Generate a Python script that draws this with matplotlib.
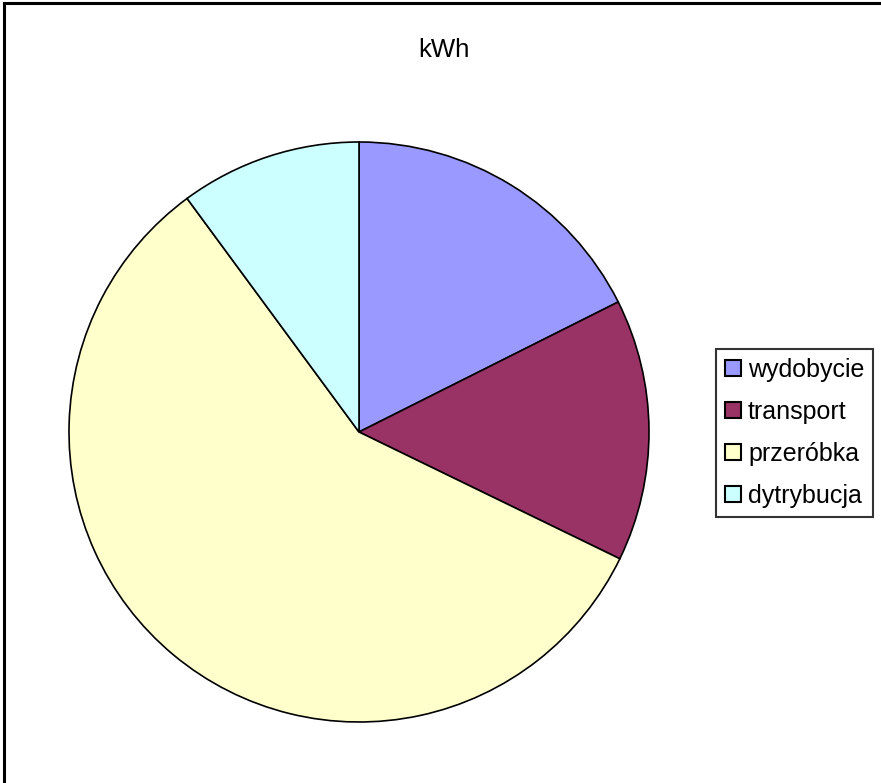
import matplotlib
matplotlib.use("Agg")
import matplotlib.pyplot as plt
from matplotlib.patches import Rectangle

plt.rcParams['font.family'] = ['Liberation Sans', 'DejaVu Sans']

categories = ['wydobycie', 'transport', 'przeróbka', 'dytrybucja']
values = [17.6, 14.6, 57.7, 10.1]
colors = ['#9999FF', '#993366', '#FFFFCC', '#CCFFFF']
title = 'kWh'

W, H = 881, 783
fig = plt.figure(figsize=(W / 100, H / 100), dpi=100)

# outer frame
fig.patches.append(Rectangle((4 / W, -0.1), 2.0, (H - 3) / H + 0.1, transform=fig.transFigure,
                             fill=False, edgecolor='black', linewidth=2.2))

cx, cy, r = 359, 432, 290
ax = fig.add_axes([(cx - r) / W, (H - cy - r) / H, 2 * r / W, 2 * r / H])
wedges, _ = ax.pie(values, colors=colors, startangle=90, counterclock=False,
                   wedgeprops=dict(edgecolor='black', linewidth=1.2), radius=1.0)
ax.set_xlim(-1.0, 1.0)
ax.set_ylim(-1.0, 1.0)
ax.set_aspect('equal')
ax.axis('off')

fig.text(444 / W, 1 - 50 / H, title, ha='center', va='center', fontsize=18.5)

leg = fig.legend(wedges, categories, loc='upper left',
                 bbox_to_anchor=(716 / W, 1 - 349 / H), fontsize=18,
                 frameon=True, fancybox=False, handlelength=0.62, handleheight=0.62,
                 handletextpad=0.3, labelspacing=0.72, borderpad=0.36,
                 borderaxespad=0)
leg.get_frame().set_edgecolor('black')
leg.get_frame().set_linewidth(1.5)
for h in leg.legend_handles:
    h.set_linewidth(1.5)

fig.savefig('out.png', dpi=100)
